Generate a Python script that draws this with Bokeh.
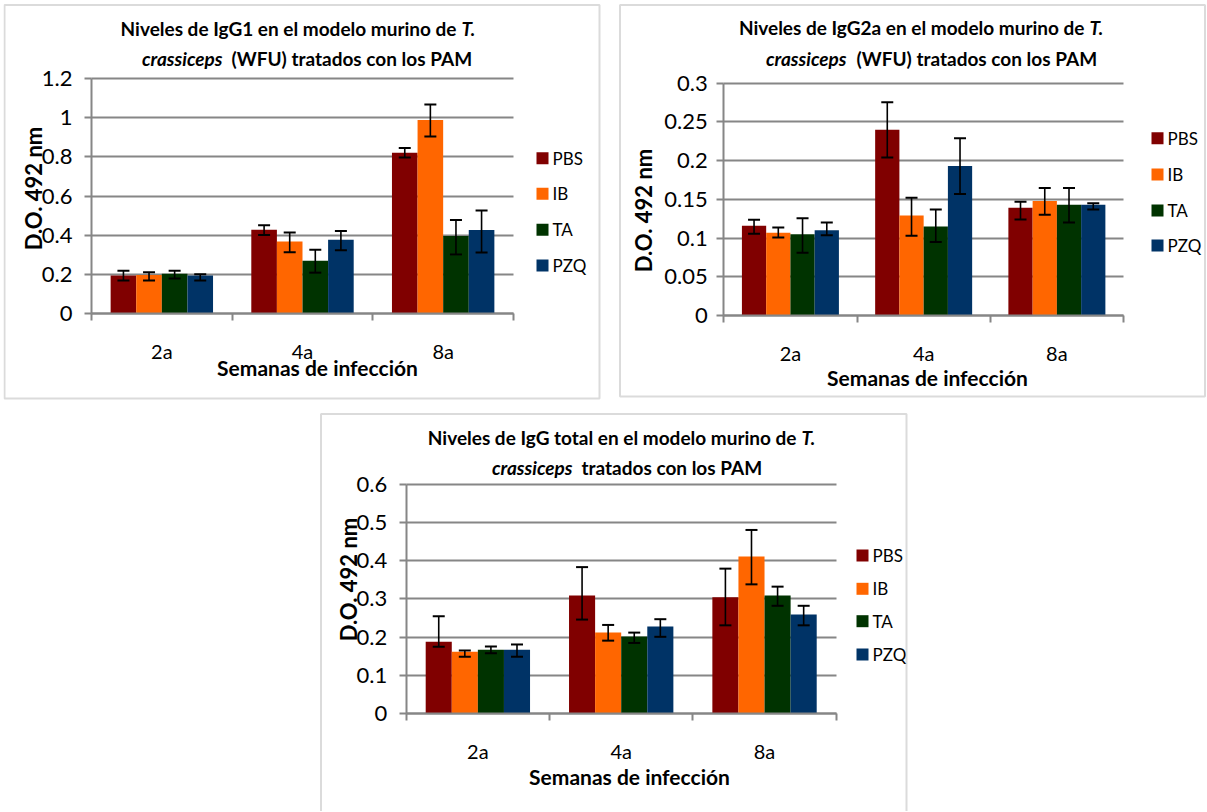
import math
from bokeh.plotting import figure
from bokeh.models import (Range1d, FixedTicker, Label, BoxAnnotation, Whisker,
                          TeeHead, ColumnDataSource, Spacer)
from bokeh.layouts import row, column
from bokeh.embed import file_html
from bokeh.resources import INLINE

# ---------------- data ----------------
categories = ["2a", "4a", "8a"]
groups = ["PBS", "IB", "TA", "PZQ"]
colors = ["#800000", "#ff6600", "#003300", "#003366"]

# IgG1
igg1_ticks = [0, 0.2, 0.4, 0.6, 0.8, 1.0, 1.2]
igg1_tick_labels = ["0", "0.2", "0.4", "0.6", "0.8", "1", "1.2"]
igg1_mean = {"PBS": [0.195, 0.429, 0.820], "IB": [0.198, 0.368, 0.987],
             "TA": [0.205, 0.271, 0.396], "PZQ": [0.195, 0.378, 0.427]}
igg1_hi = {"PBS": [0.220, 0.451, 0.845], "IB": [0.212, 0.414, 1.066],
           "TA": [0.220, 0.326, 0.478], "PZQ": [0.202, 0.422, 0.527]}
igg1_lo = {"PBS": [0.170, 0.402, 0.796], "IB": [0.170, 0.314, 0.903],
           "TA": [0.180, 0.210, 0.303], "PZQ": [0.170, 0.324, 0.313]}

# IgG2a
igg2a_ticks = [0, 0.05, 0.1, 0.15, 0.2, 0.25, 0.3]
igg2a_tick_labels = ["0", "0.05", "0.1", "0.15", "0.2", "0.25", "0.3"]
igg2a_mean = {"PBS": [0.116, 0.240, 0.139], "IB": [0.107, 0.129, 0.148],
              "TA": [0.105, 0.115, 0.143], "PZQ": [0.110, 0.193, 0.143]}
igg2a_hi = {"PBS": [0.1235, 0.2755, 0.147], "IB": [0.1136, 0.152, 0.1645],
            "TA": [0.1257, 0.137, 0.1645], "PZQ": [0.120, 0.229, 0.145]}
igg2a_lo = {"PBS": [0.1055, 0.204, 0.124], "IB": [0.1007, 0.103, 0.130],
            "TA": [0.081, 0.095, 0.120], "PZQ": [0.1037, 0.157, 0.137]}

# IgG total
iggt_ticks = [0, 0.1, 0.2, 0.3, 0.4, 0.5, 0.6]
iggt_tick_labels = ["0", "0.1", "0.2", "0.3", "0.4", "0.5", "0.6"]
iggt_mean = {"PBS": [0.188, 0.309, 0.304], "IB": [0.162, 0.212, 0.411],
             "TA": [0.167, 0.202, 0.309], "PZQ": [0.167, 0.228, 0.259]}
iggt_hi = {"PBS": [0.255, 0.383, 0.379], "IB": [0.165, 0.232, 0.480],
           "TA": [0.176, 0.212, 0.332], "PZQ": [0.181, 0.247, 0.282]}
iggt_lo = {"PBS": [0.175, 0.246, 0.231], "IB": [0.149, 0.191, 0.338],
           "TA": [0.158, 0.185, 0.282], "PZQ": [0.149, 0.201, 0.231]}

x_title = "Semanas de infección"
y_title = "D.O. 492 nm"

FONT = "Lato"
GRAY = "#868686"
INK = "black"
BAR_W = 0.182


def make_panel(canvas, frame, ymax, yticks, ylabels, means, his, los,
               t1_norm, t1_ital, t2_ital, t2_norm, title_geo,
               ylab_xy, xlab_xy, leg_geo, border, ystandoff):
    cl, ct, cw, ch = canvas          # canvas box in page pixels
    fl, ft, fr, fb = frame           # plot area in page pixels
    ncat = len(categories)

    def X(px):
        return (px - fl) / (fr - fl) * ncat

    def Y(py):
        return (fb - py) / (fb - ft) * ymax

    p = figure(width=cw, height=ch,
               x_range=Range1d(X(cl), X(cl + cw)),
               y_range=Range1d(Y(ct + ch), Y(ct)),
               output_backend="svg", toolbar_location=None,
               min_border=0)
    p.outline_line_color = None
    p.background_fill_color = "white"
    p.border_fill_color = "white"
    p.xgrid.visible = False

    # y axis (drawn at x = 0 inside the canvas)
    p.yaxis.fixed_location = 0
    p.yaxis.bounds = (0, ymax)
    p.yaxis.ticker = FixedTicker(ticks=yticks)
    p.yaxis.major_label_overrides = dict(zip(yticks, ylabels))
    p.yaxis.major_label_text_font = FONT
    p.yaxis.major_label_text_font_size = "22px"
    p.yaxis.major_label_text_color = INK
    p.yaxis.major_label_standoff = ystandoff
    p.yaxis.major_tick_out = 7
    p.yaxis.major_tick_in = 0
    p.yaxis.minor_tick_line_color = None
    p.yaxis.axis_line_color = GRAY
    p.yaxis.axis_line_width = 2
    p.yaxis.major_tick_line_color = GRAY
    p.yaxis.major_tick_line_width = 2

    # horizontal grid lines limited to the plot area
    try:
        p.ygrid.cross_bounds = (0, ncat)
        p.ygrid.grid_line_color = GRAY
        p.ygrid.grid_line_width = 2
    except AttributeError:
        p.ygrid.visible = False
        p.segment(x0=[0] * len(yticks), x1=[ncat] * len(yticks), y0=yticks,
                  y1=yticks, line_color=GRAY, line_width=2, level="underlay")

    # x axis (drawn at y = 0)
    centers = [i + 0.5 for i in range(ncat)]
    bounds = [float(i) for i in range(ncat + 1)]
    p.xaxis.fixed_location = 0
    p.xaxis.bounds = (0, ncat)
    p.xaxis.ticker = FixedTicker(ticks=centers, minor_ticks=bounds)
    p.xaxis.major_label_overrides = dict(zip(centers, categories))
    p.xaxis.major_label_text_font = FONT
    p.xaxis.major_label_text_font_size = "20px"
    p.xaxis.major_label_text_color = INK
    p.xaxis.major_label_standoff = 18
    p.xaxis.major_tick_out = 0
    p.xaxis.major_tick_in = 0
    p.xaxis.minor_tick_out = 7
    p.xaxis.minor_tick_in = 0
    p.xaxis.minor_tick_line_color = GRAY
    p.xaxis.minor_tick_line_width = 2
    p.xaxis.axis_line_color = GRAY
    p.xaxis.axis_line_width = 2

    # bars + error bars
    for i, g in enumerate(groups):
        xs = [c + (i - 1.5) * BAR_W for c in centers]
        p.vbar(x=xs, top=means[g], width=BAR_W, fill_color=colors[i],
               line_color=None)
        src = ColumnDataSource(dict(x=xs, upper=his[g], lower=los[g]))
        p.add_layout(Whisker(source=src, base="x", upper="upper", lower="lower",
                             line_color="black", line_width=1.6, level="overlay",
                             upper_head=TeeHead(size=12, line_color="black", line_width=2),
                             lower_head=TeeHead(size=12, line_color="black", line_width=2)))

    # legend
    sq_left, txt_left, rows = leg_geo
    for i, g in enumerate(groups):
        yc = rows[i]
        p.add_layout(BoxAnnotation(left=X(sq_left), right=X(sq_left + 12),
                                   top=Y(yc - 6), bottom=Y(yc + 6),
                                   fill_color=colors[i], fill_alpha=1.0,
                                   line_color=None, level="overlay"))
        p.add_layout(Label(x=X(txt_left), y=Y(yc), text=g, text_font=FONT,
                           text_font_size="17px", text_color=INK,
                           text_baseline="middle", text_align="left"))

    # chart titles (two lines, with italic species name)
    (y1, split1_r, split1_l), (y2, split2_r, split2_l) = title_geo
    common = dict(text_font=FONT, text_font_size="19px", text_color=INK,
                  text_baseline="middle")
    p.add_layout(Label(x=X(split1_r), y=Y(y1), text=t1_norm,
                       text_font_style="bold", text_align="right", **common))
    p.add_layout(Label(x=X(split1_l), y=Y(y1), text=t1_ital,
                       text_font_style="bold italic", text_align="left", **common))
    p.add_layout(Label(x=X(split2_r), y=Y(y2), text=t2_ital,
                       text_font_style="bold italic", text_align="right", **common))
    p.add_layout(Label(x=X(split2_l), y=Y(y2), text=t2_norm,
                       text_font_style="bold", text_align="left", **common))

    # axis titles
    p.add_layout(Label(x=X(ylab_xy[0]), y=Y(ylab_xy[1]), text=y_title,
                       text_font=FONT, text_font_size="22px", text_color=INK,
                       text_font_style="bold", angle=math.pi / 2,
                       text_align="center", text_baseline="middle"))
    p.add_layout(Label(x=X(xlab_xy[0]), y=Y(xlab_xy[1]), text=x_title,
                       text_font=FONT, text_font_size="21px", text_color=INK,
                       text_font_style="bold",
                       text_align="center", text_baseline="middle"))

    # chart-area border
    bl, bt, br, bb = border
    p.add_layout(BoxAnnotation(left=X(bl), right=X(br), top=Y(bt), bottom=Y(bb),
                               fill_alpha=0, line_color="#878787",
                               line_width=2, level="overlay"))
    return p


p1 = make_panel(canvas=(3, 3, 598, 398), frame=(91, 77.7, 513, 313.4), ymax=1.2,
                yticks=igg1_ticks, ylabels=igg1_tick_labels,
                means=igg1_mean, his=igg1_hi, los=igg1_lo,
                t1_norm="Niveles de IgG1 en el modelo murino de", t1_ital="T.",
                t2_ital="crassiceps", t2_norm="(WFU) tratados con los PAM",
                title_geo=((28, 456, 461), (58, 222, 231)),
                ylab_xy=(33, 188), xlab_xy=(317, 367),
                leg_geo=(536, 552, [157.7, 193.3, 229.3, 265]),
                border=(4, 4.5, 599, 398), ystandoff=12)

p2 = make_panel(canvas=(617, 3, 590, 398), frame=(723.3, 82.7, 1123, 315), ymax=0.3,
                yticks=igg2a_ticks, ylabels=igg2a_tick_labels,
                means=igg2a_mean, his=igg2a_hi, los=igg2a_lo,
                t1_norm="Niveles de IgG2a en el modelo murino de", t1_ital="T.",
                t2_ital="crassiceps", t2_norm="(WFU) tratados con los PAM",
                title_geo=((27, 1084, 1089), (58, 846, 856)),
                ylab_xy=(643, 210), xlab_xy=(927, 377),
                leg_geo=(1151, 1167, [137.7, 174, 210, 245]),
                border=(619.5, 4.5, 1204.5, 396), ystandoff=9)

p3 = make_panel(canvas=(319, 409, 589, 402), frame=(405.7, 483.5, 835.7, 713.3), ymax=0.6,
                yticks=iggt_ticks, ylabels=iggt_tick_labels,
                means=iggt_mean, his=iggt_hi, los=iggt_lo,
                t1_norm="Niveles de IgG total en el modelo murino de", t1_ital="T.",
                t2_ital="crassiceps", t2_norm="tratados con los PAM",
                title_geo=((437, 796, 801), (467, 572, 581)),
                ylab_xy=(348, 579), xlab_xy=(629, 776),
                leg_geo=(856, 872, [555, 588.3, 620.7, 654]),
                border=(320.5, 413.5, 906, 830), ystandoff=12)

layout = column(
    Spacer(width=10, height=3),
    row(Spacer(width=3, height=398), p1, Spacer(width=16, height=398), p2),
    Spacer(width=10, height=8),
    row(Spacer(width=319, height=402), p3),
)

open("out.html", "w").write(file_html(layout, INLINE))
